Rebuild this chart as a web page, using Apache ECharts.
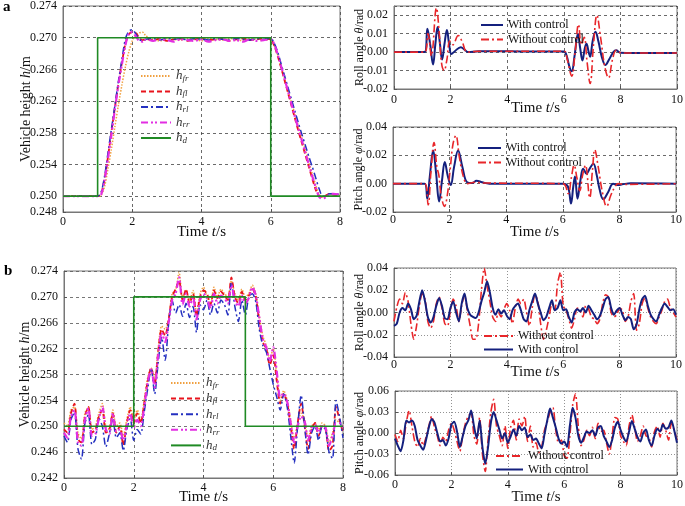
<!DOCTYPE html>
<html>
<head>
<meta charset="utf-8">
<title>Vehicle height, roll and pitch</title>
<script src="https://cdn.jsdelivr.net/npm/echarts@6.0.0/dist/echarts.min.js"></script>
<style>
  html, body { margin: 0; padding: 0; background: #fff; }
  #chart-container { width: 685px; height: 506px; }
</style>
</head>
<body>
<div id="chart-container"></div>
<script>
// ************************************************* //
// * +++++++++++ Data ++++++++++++ * //
// ************************************************* //

// --- a: vehicle height, smooth step ---
var tA = [0, 1.0, 1.1, 1.2, 1.3, 1.4, 1.5, 1.6, 1.7, 1.8, 1.9, 2.0, 2.1, 2.2, 2.3, 2.4,
  2.6, 2.8, 3.0, 3.2, 3.4, 3.6, 3.8, 4.0, 4.2, 4.4, 4.6, 4.8, 5.0, 5.2, 5.4, 5.6, 5.8, 6.0,
  6.1, 6.2, 6.3, 6.4, 6.5, 6.6, 6.7, 6.8, 6.9, 7.0, 7.1, 7.2, 7.3, 7.4, 7.5, 7.6, 7.7, 7.8, 8.0];
var hfrA = [0.2500, 0.2500,
  0.2501, 0.2512, 0.2535, 0.2560, 0.2588, 0.2615, 0.2640, 0.2663, 0.2682, 0.2696, 0.2703, 0.2706, 0.2707, 0.2702,
  0.2698, 0.2696, 0.2699, 0.2698, 0.2697, 0.2699, 0.2698, 0.2696, 0.2699, 0.2698, 0.2697, 0.2699, 0.2698, 0.2696, 0.2699, 0.2698, 0.2697, 0.2698,
  0.2690, 0.2678, 0.2663, 0.2648, 0.2633, 0.2618, 0.2603, 0.2588, 0.2573, 0.2558, 0.2543, 0.2528, 0.2514, 0.2502, 0.2499, 0.2500, 0.2502, 0.2502,
  0.2501];
var hflA = [0.2500, 0.2500,
  0.2503, 0.2522, 0.2550, 0.2582, 0.2612, 0.2642, 0.2668, 0.2692, 0.2704, 0.2707, 0.2706, 0.2700, 0.2697, 0.2698,
  0.2697, 0.2699, 0.2696, 0.2698, 0.2699, 0.2696, 0.2698, 0.2699, 0.2697, 0.2698, 0.2699, 0.2696, 0.2698, 0.2699, 0.2697, 0.2698, 0.2699, 0.2698,
  0.2690, 0.2677, 0.2662, 0.2646, 0.2630, 0.2614, 0.2598, 0.2582, 0.2567, 0.2552, 0.2537, 0.2522, 0.2508, 0.2500, 0.2499, 0.2501, 0.2503, 0.2502,
  0.2501];
var hrlA = [0.2500, 0.2500,
  0.2505, 0.2525, 0.2555, 0.2585, 0.2615, 0.2645, 0.2672, 0.2698, 0.2708, 0.2710, 0.2705, 0.2698, 0.2696, 0.2698,
  0.2699, 0.2697, 0.2699, 0.2698, 0.2699, 0.2697, 0.2699, 0.2698, 0.2697, 0.2699, 0.2698, 0.2697, 0.2699, 0.2698, 0.2697, 0.2699, 0.2698, 0.2699,
  0.2693, 0.2682, 0.2667, 0.2652, 0.2637, 0.2622, 0.2607, 0.2592, 0.2578, 0.2564, 0.2550, 0.2537, 0.2523, 0.2509, 0.2500, 0.2500, 0.2503, 0.2503,
  0.2502];
var hrrA = [0.2500, 0.2500,
  0.2502, 0.2520, 0.2548, 0.2578, 0.2610, 0.2640, 0.2666, 0.2690, 0.2705, 0.2707, 0.2702, 0.2696, 0.2695, 0.2698,
  0.2696, 0.2698, 0.2697, 0.2695, 0.2698, 0.2697, 0.2696, 0.2698, 0.2695, 0.2697, 0.2698, 0.2696, 0.2697, 0.2695, 0.2698, 0.2696, 0.2697, 0.2698,
  0.2692, 0.2679, 0.2664, 0.2648, 0.2632, 0.2616, 0.2600, 0.2585, 0.2570, 0.2555, 0.2540, 0.2525, 0.2511, 0.2499, 0.2497, 0.2499, 0.2502, 0.2503,
  0.2502];
var hdATimes = [0, 1, 1, 6, 6, 8];
var hdAVals = [0.250, 0.250, 0.270, 0.270, 0.250, 0.250];
// tick labels on the left axis of a (0.248 at the bottom, then 0.250 + 4 mm steps)
var heightTicksA = [0.248, 0.250, 0.254, 0.258, 0.262, 0.266, 0.270, 0.274];

// --- a: roll / pitch, [t, value] ---
var rollAWith = [[0, 0], [1.08, 0], [1.18, 0.0127], [1.28, 0.004], [1.38, -0.0067], [1.46, 0.004], [1.54, 0.0136],
  [1.62, 0.005], [1.7, -0.004], [1.78, 0.004], [1.87, 0.012], [1.95, 0.004], [2.03, -0.001], [2.15, 0.0005],
  [2.36, 0.0027], [2.5, 0.0012], [2.62, 0], [3, 0.0004], [4, 0.0004], [5, 0.0003], [6.0, 0.0003], [6.1, -0.002],
  [6.2, -0.008], [6.28, -0.0104], [6.38, -0.002], [6.5, 0.010], [6.58, 0.002], [6.66, -0.0045], [6.74, 0.002],
  [6.8, 0.0045], [6.88, 0.000], [6.93, -0.0025], [7.02, 0.006], [7.12, 0.011], [7.22, 0.006], [7.35, -0.003],
  [7.47, -0.007], [7.6, -0.004], [7.75, 0.000], [7.85, 0.001], [8.0, -0.0003], [9, -0.0005], [10, -0.0005]];
var rollANo = [[0, 0], [1.08, 0], [1.2, 0.010], [1.32, -0.002], [1.5, 0.024], [1.6, 0.010], [1.68, -0.006],
  [1.77, -0.010], [1.87, -0.004], [1.97, 0.006], [2.08, 0.004], [2.27, 0.009], [2.4, 0.006], [2.6, 0.000],
  [3, 0.0005], [6.0, 0.0005], [6.12, -0.004], [6.28, -0.013], [6.4, 0.000], [6.52, 0.015], [6.62, 0.004],
  [6.72, 0.008], [6.82, -0.005], [6.93, -0.017], [7.05, 0.004], [7.17, 0.020], [7.3, 0.008], [7.45, -0.008],
  [7.58, -0.014], [7.72, -0.004], [7.85, 0.001], [7.95, 0.000], [8.1, -0.0005], [10, -0.0005]];
var pitchAWith = [[0, 0], [1.12, 0], [1.21, -0.0106], [1.3, 0.005], [1.42, 0.0235], [1.52, 0.008], [1.63, -0.0125],
  [1.73, 0.002], [1.83, 0.0153], [1.93, 0.006], [2.04, -0.001], [2.16, 0.012], [2.3, 0.0235], [2.45, 0.012],
  [2.62, 0.001], [2.8, 0.0005], [2.95, 0.002], [3.15, 0.001], [3.4, 0], [6.0, 0], [6.18, -0.002], [6.29, -0.014],
  [6.37, -0.002], [6.43, 0.005], [6.52, -0.0106], [6.62, 0.002], [6.72, 0.0106], [6.84, 0.007], [6.96, 0.011],
  [7.08, 0.014], [7.2, 0.006], [7.3, -0.004], [7.43, -0.011], [7.6, -0.006], [7.78, 0], [7.95, -0.001],
  [8.1, -0.0005], [8.4, 0.0003], [10, 0]];
var pitchANo = [[0, 0], [1.12, 0], [1.24, -0.015], [1.34, 0.008], [1.45, 0.029], [1.55, 0.012], [1.62, 0.006],
  [1.7, -0.008], [1.82, -0.016], [1.92, -0.008], [2.02, 0.010], [2.12, 0.028], [2.22, 0.034], [2.35, 0.018],
  [2.5, 0.004], [2.62, 0.000], [2.9, 0.001], [3.2, 0.0005], [6.0, 0], [6.19, -0.007], [6.3, 0.004], [6.4, 0.013],
  [6.5, 0.004], [6.6, -0.005], [6.7, 0.006], [6.8, 0.013], [6.95, -0.010], [7.05, 0.010], [7.13, 0.024],
  [7.25, 0.012], [7.4, -0.006], [7.55, -0.016], [7.7, -0.008], [7.85, -0.002], [7.95, 0], [8.2, -0.0005], [10, 0]];

// --- b: sampled every 0.1 s ---
var stepB = 0.1;
var hfrB = [
  0.2505, 0.2500, 0.2525, 0.2530, 0.2490, 0.2480, 0.2520, 0.2530, 0.2495, 0.2500,
  0.2520, 0.2535, 0.2500, 0.2495, 0.2525, 0.2500, 0.2505, 0.2485, 0.2510, 0.2530,
  0.2510, 0.2525, 0.2510, 0.2540, 0.2575, 0.2590, 0.2575, 0.2620, 0.2655, 0.2650,
  0.2665, 0.2705, 0.2710, 0.2738, 0.2700, 0.2710, 0.2695, 0.2710, 0.2675, 0.2705,
  0.2715, 0.2700, 0.2690, 0.2715, 0.2700, 0.2712, 0.2705, 0.2700, 0.2725, 0.2705,
  0.2695, 0.2712, 0.2700, 0.2705, 0.2718, 0.2705, 0.2670, 0.2640, 0.2625, 0.2605,
  0.2620, 0.2580, 0.2540, 0.2555, 0.2540, 0.2510, 0.2480, 0.2505, 0.2520, 0.2510,
  0.2480, 0.2500, 0.2505, 0.2495, 0.2505, 0.2500, 0.2475, 0.2490, 0.2510, 0.2505,
  0.2500];
var hflB = [
  0.2495, 0.2490, 0.2520, 0.2535, 0.2480, 0.2475, 0.2515, 0.2530, 0.2490, 0.2495,
  0.2515, 0.2525, 0.2490, 0.2495, 0.2520, 0.2490, 0.2500, 0.2470, 0.2505, 0.2525,
  0.2505, 0.2520, 0.2505, 0.2535, 0.2570, 0.2590, 0.2565, 0.2615, 0.2650, 0.2640,
  0.2665, 0.2700, 0.2712, 0.2725, 0.2695, 0.2712, 0.2690, 0.2705, 0.2670, 0.2700,
  0.2710, 0.2705, 0.2688, 0.2710, 0.2698, 0.2708, 0.2702, 0.2695, 0.2730, 0.2700,
  0.2690, 0.2708, 0.2695, 0.2702, 0.2712, 0.2700, 0.2660, 0.2630, 0.2620, 0.2595,
  0.2610, 0.2570, 0.2535, 0.2550, 0.2535, 0.2500, 0.2465, 0.2505, 0.2535, 0.2500,
  0.2465, 0.2495, 0.2505, 0.2485, 0.2500, 0.2495, 0.2462, 0.2470, 0.2530, 0.2510,
  0.2490];
var hrlB = [
  0.2485, 0.2475, 0.2510, 0.2522, 0.2465, 0.2449, 0.2505, 0.2518, 0.2472, 0.2480,
  0.2512, 0.2500, 0.2468, 0.2488, 0.2512, 0.2482, 0.2490, 0.2462, 0.2495, 0.2512,
  0.2478, 0.2495, 0.2488, 0.2522, 0.2558, 0.2590, 0.2550, 0.2598, 0.2638, 0.2602,
  0.2658, 0.2695, 0.2675, 0.2688, 0.2670, 0.2690, 0.2668, 0.2685, 0.2645, 0.2688,
  0.2680, 0.2695, 0.2672, 0.2690, 0.2675, 0.2695, 0.2688, 0.2672, 0.2722, 0.2685,
  0.2662, 0.2695, 0.2672, 0.2700, 0.2705, 0.2692, 0.2650, 0.2625, 0.2615, 0.2590,
  0.2565, 0.2545, 0.2525, 0.2550, 0.2530, 0.2485, 0.2443, 0.2500, 0.2548, 0.2500,
  0.2456, 0.2490, 0.2500, 0.2478, 0.2500, 0.2495, 0.2460, 0.2450, 0.2540, 0.2515,
  0.2482];
var hrrB = [
  0.2490, 0.2482, 0.2515, 0.2525, 0.2475, 0.2470, 0.2510, 0.2528, 0.2485, 0.2488,
  0.2512, 0.2530, 0.2495, 0.2488, 0.2520, 0.2492, 0.2495, 0.2478, 0.2500, 0.2520,
  0.2498, 0.2510, 0.2500, 0.2530, 0.2568, 0.2588, 0.2560, 0.2610, 0.2645, 0.2630,
  0.2660, 0.2695, 0.2705, 0.2730, 0.2688, 0.2705, 0.2685, 0.2700, 0.2665, 0.2695,
  0.2705, 0.2698, 0.2682, 0.2705, 0.2690, 0.2702, 0.2698, 0.2690, 0.2718, 0.2695,
  0.2685, 0.2702, 0.2690, 0.2698, 0.2715, 0.2702, 0.2668, 0.2635, 0.2622, 0.2600,
  0.2622, 0.2585, 0.2545, 0.2550, 0.2538, 0.2505, 0.2475, 0.2500, 0.2515, 0.2508,
  0.2478, 0.2498, 0.2502, 0.2490, 0.2502, 0.2498, 0.2470, 0.2485, 0.2505, 0.2505,
  0.2498];
var hdBTimes = [0, 2, 2, 5.2, 5.2, 8];
var hdBVals = [0.250, 0.250, 0.270, 0.270, 0.250, 0.250];

var rollBWith = [
  -0.012, -0.010, 0.000, 0.004, 0.002, 0.008, 0.003, -0.006, -0.003, 0.010,
  0.020, 0.010, -0.004, -0.009, -0.004, 0.006, 0.013, 0.006, -0.005, -0.006,
  0.004, 0.010, 0.000, -0.008, 0.008, 0.017, 0.004, -0.002, -0.004, -0.005,
  0.000, 0.010, 0.018, 0.028, 0.018, 0.004, -0.002, 0.003, -0.001, 0.002,
  -0.003, -0.006, 0.002, 0.006, 0.008, 0.002, -0.006, -0.008, 0.002, 0.010,
  0.017, 0.008, 0.000, -0.007, -0.004, 0.004, 0.011, 0.002, 0.004, 0.011,
  0.002, 0.003, -0.004, -0.009, 0.000, 0.003, 0.001, 0.004, 0.000, 0.006,
  0.002, -0.002, -0.006, -0.003, 0.004, 0.012, 0.014, 0.004, -0.002, 0.002,
  0.004, -0.002, -0.007, -0.004, -0.006, -0.015, -0.011, 0.003, 0.012, 0.015,
  0.006, -0.002, -0.006, -0.008, -0.002, 0.004, 0.008, 0.005, 0.002, 0.003,
  -0.002];
var rollBNo = [
  -0.008, 0.005, 0.012, 0.008, 0.018, 0.010, -0.010, -0.024, -0.012, 0.006,
  0.017, 0.012, -0.008, -0.014, -0.008, 0.008, 0.014, 0.004, -0.010, -0.012,
  0.002, 0.012, 0.006, -0.008, 0.006, 0.016, 0.002, -0.012, -0.024, -0.024,
  -0.010, 0.020, 0.040, 0.024, 0.010, -0.004, -0.008, 0.000, -0.004, 0.003,
  0.008, 0.002, -0.010, 0.004, 0.012, 0.008, 0.012, 0.000, -0.012, 0.004,
  0.016, 0.010, -0.010, -0.024, -0.016, -0.004, 0.008, 0.002, 0.026, 0.036,
  0.006, 0.002, -0.006, -0.014, -0.006, 0.004, 0.002, -0.004, 0.006, 0.003,
  -0.004, -0.006, -0.010, -0.006, 0.008, 0.016, 0.014, 0.000, -0.004, -0.002,
  0.004, 0.002, -0.008, -0.004, 0.010, 0.017, -0.016, -0.010, 0.008, 0.013,
  0.004, -0.004, -0.008, -0.010, -0.004, 0.002, 0.010, 0.012, 0.004, 0.000,
  -0.004];
var pitchBWith = [
  -0.008, -0.018, -0.026, -0.010, 0.018, 0.015, 0.018, 0.010, -0.010, -0.018,
  -0.024, -0.010, 0.008, 0.020, 0.015, 0.000, -0.012, -0.010, -0.018, -0.008,
  0.012, 0.016, 0.002, -0.020, -0.005, 0.010, 0.018, 0.032, 0.010, -0.008,
  0.018, -0.020, -0.044, -0.020, 0.015, 0.030, 0.018, 0.005, -0.008, 0.000,
  -0.014, -0.005, 0.005, -0.004, 0.010, 0.004, 0.008, -0.006, -0.002, -0.010,
  -0.008, -0.015, -0.022, -0.002, 0.018, 0.035, 0.022, 0.008, -0.008, -0.015,
  -0.012, -0.020, 0.010, 0.036, 0.022, -0.004, -0.014, -0.006, 0.002, 0.000,
  0.004, -0.004, 0.008, 0.010, -0.004, -0.012, -0.020, -0.010, 0.008, 0.016,
  0.004, -0.006, -0.012, 0.002, 0.017, 0.006, -0.006, -0.012, 0.000, 0.005,
  -0.010, -0.018, -0.004, 0.006, 0.002, 0.012, 0.006, 0.008, 0.018, 0.004,
  -0.014];
var pitchBNo = [
  -0.002, -0.012, 0.004, -0.008, 0.015, 0.032, 0.010, -0.012, -0.020, -0.008,
  -0.018, -0.006, 0.010, 0.024, 0.008, -0.004, -0.018, -0.006, -0.012, 0.004,
  0.014, 0.004, -0.012, -0.026, -0.004, 0.014, 0.024, 0.028, -0.004, -0.016,
  0.022, -0.030, -0.055, -0.010, 0.030, 0.048, 0.010, -0.004, -0.018, 0.010,
  -0.022, 0.008, 0.018, -0.010, 0.020, 0.010, 0.024, -0.012, 0.010, -0.020,
  -0.014, -0.028, -0.020, 0.004, 0.016, 0.030, 0.036, 0.004, -0.014, -0.010,
  -0.032, -0.036, -0.004, 0.040, 0.056, 0.010, -0.018, -0.010, 0.004, -0.004,
  0.008, -0.008, 0.014, 0.002, 0.004, -0.014, -0.030, -0.004, 0.022, 0.020,
  -0.004, -0.012, -0.018, 0.010, 0.026, 0.008, -0.012, -0.004, 0.010, -0.004,
  -0.006, -0.020, 0.002, 0.010, -0.006, 0.014, 0.004, -0.010, 0.014, 0.004,
  -0.010];

var heightNames = ['hfr', 'hfl', 'hrl', 'hrr', 'hd'];
var heightSubs = { hfr: 'fr', hfl: 'fl', hrl: 'rl', hrr: 'rr', hd: 'd' };

// ************************************************* //
// * +++++++++++ Helpers ++++++++++++ * //
// ************************************************* //

var serif = 'Liberation Serif';
var ink = '#111';

function zip(times, vals) {
  return vals.map(function (v, i) { return [times[i], v]; });
}
function sampled(vals, step) {
  return vals.map(function (v, i) { return [Math.round(i * step * 100) / 100, v]; });
}

function nameRich(size) {
  return {
    n: { fontFamily: serif, fontSize: size, color: ink, lineHeight: size },
    i: { fontFamily: serif, fontSize: size, color: ink, lineHeight: size, fontStyle: 'italic' }
  };
}

var dashA = { color: '#444', width: 0.8, type: [3, 3] };
var dashB = { color: '#555', width: 0.8, type: [3, 3] };
var dotB = { color: '#777', width: 0.8, type: [1, 2] };

function timeAxis(gi, max, nameGap, labelMargin, split) {
  return {
    type: 'value', gridIndex: gi, min: 0, max: max, interval: 2,
    name: '{n|Time }{i|t}{n|/s}', nameLocation: 'middle', nameGap: nameGap, nameMoveOverlap: false,
    nameTextStyle: { rich: nameRich(15) },
    axisLine: { show: true, onZero: false, lineStyle: { color: '#777', width: 1 } },
    axisTick: { show: true, inside: true, length: 3, lineStyle: { color: '#555' } },
    axisLabel: { margin: labelMargin, fontFamily: serif, fontSize: 12, color: ink },
    splitLine: { show: true, lineStyle: split }
  };
}

function valAxis(gi, min, max, step, digits, name, nameGap, nameSize, split, showMax) {
  return {
    type: 'value', gridIndex: gi, min: min, max: max, interval: step,
    name: name, nameLocation: 'middle', nameGap: nameGap, nameMoveOverlap: false,
    nameTextStyle: { rich: nameRich(nameSize) },
    axisLine: { show: true, onZero: false, lineStyle: { color: '#777', width: 1 } },
    axisTick: { show: true, inside: true, length: 3, lineStyle: { color: '#555' } },
    axisLabel: {
      margin: 6, fontFamily: serif, fontSize: 12, color: ink, showMaxLabel: showMax,
      formatter: function (v) { return (Math.abs(v) < 1e-9 ? 0 : v).toFixed(digits); }
    },
    splitLine: { show: true, lineStyle: split }
  };
}

var styles = {
  hfr: { color: '#f0a040', width: 1.5, type: [1.5, 1.5] },
  hfl: { color: '#e8141c', width: 1.8, type: [5, 3] },
  hrl: { color: '#2430c0', width: 1.5, type: [7, 3, 2, 3] },
  hrr: { color: '#e22ee2', width: 2.2, type: [7, 3, 2, 2, 2, 3] },
  hd: { color: '#1f8a24', width: 1.6, type: 'solid' },
  'With control': { color: '#14207e', width: 2, type: 'solid' },
  'Without control': { color: '#e8262a', width: 1.6, type: [8, 3, 2, 3] }
};

function line(name, gi, data, smooth) {
  var st = styles[name];
  return {
    name: name, type: 'line', xAxisIndex: gi, yAxisIndex: gi, data: data,
    symbol: 'none', smooth: smooth, lineStyle: st, itemStyle: { color: st.color }
  };
}

function legendOf(names, left, top, itemWidth, gap) {
  return {
    data: names, orient: 'vertical', left: left, top: top, padding: 0,
    itemWidth: itemWidth, itemHeight: 10, itemGap: gap, selectedMode: false,
    itemStyle: { opacity: 0 },   // line sample only, no marker in the middle
    textStyle: {
      fontFamily: serif, fontSize: 12, color: ink, lineHeight: 12,
      rich: {
        h: { fontFamily: serif, fontStyle: 'italic', fontSize: 13, color: '#333', lineHeight: 14 },
        s: { fontFamily: serif, fontStyle: 'italic', fontSize: 9, color: '#333', lineHeight: 9, verticalAlign: 'bottom' }
      }
    },
    formatter: function (name) {
      return heightSubs[name] ? '{h|h}{s|' + heightSubs[name] + '}' : name;
    }
  };
}

// ************************************************* //
// * +++++++++++ Chart ++++++++++++ * //
// ************************************************* //

var dom = document.getElementById('chart-container');
var myChart = echarts.init(dom, null, { renderer: 'canvas' });

var gridBase = { show: true, borderColor: '#777', borderWidth: 1, backgroundColor: '#fff', containLabel: false, outerBoundsMode: 'none' };
var grids = [
  { left: 63, top: 6, width: 277, height: 206 },
  { left: 394, top: 6, width: 283, height: 83 },
  { left: 393, top: 127, width: 283, height: 85 },
  { left: 64, top: 271, width: 279, height: 207 },
  { left: 394, top: 268, width: 282, height: 89 },
  { left: 395, top: 391, width: 282, height: 84 }
].map(function (g) { return Object.assign({}, gridBase, g); });

var heightName = '{n|Vehicle height }{i|h}{n|/m}';
var rollName = '{n|Roll angle }{i|θ}{n|/rad}';
var pitchName = '{n|Pitch angle }{i|φ}{n|/rad}';

var heightAxisA = valAxis(0, 0.248, 0.274, 0.002, 3, heightName, 30, 14, dashA, true);
heightAxisA.axisTick.customValues = heightTicksA;
heightAxisA.axisLabel.customValues = heightTicksA;

var option = {
  animation: false,
  backgroundColor: '#fff',
  grid: grids,
  xAxis: [
    timeAxis(0, 8, 13, 4, dashA),
    timeAxis(1, 10, 12, 5, dashA),
    timeAxis(2, 10, 13, 2, dashA),
    timeAxis(3, 8, 12, 4, dashB),
    timeAxis(4, 10, 8, 2, dotB),
    timeAxis(5, 10, 15, 4, dotB)
  ],
  yAxis: [
    heightAxisA,
    valAxis(1, -0.02, 0.025, 0.01, 2, rollName, 28, 12, dashA, false),
    valAxis(2, -0.02, 0.04, 0.02, 2, pitchName, 28, 12, dashA, true),
    valAxis(3, 0.242, 0.274, 0.004, 3, heightName, 32, 14, dashB, true),
    valAxis(4, -0.04, 0.04, 0.02, 2, rollName, 28, 12, dotB, true),
    valAxis(5, -0.06, 0.06, 0.03, 2, pitchName, 29, 12, dotB, true)
  ],
  legend: [
    legendOf(heightNames, 140, 69, 30, 1.5),
    legendOf(['With control', 'Without control'], 480, 19, 22, 2.5),
    legendOf(['With control', 'Without control'], 477, 142, 23, 2.5),
    legendOf(heightNames, 170, 376, 30, 1.6),
    legendOf(['Without control', 'With control'], 483, 330, 29, 1.5),
    legendOf(['Without control', 'With control'], 495, 450, 27, 1.5)
  ],
  graphic: [
    { type: 'text', left: 3, top: 0, style: { text: 'a', font: 'bold 15px "Liberation Serif"', fill: '#000' } },
    { type: 'text', left: 4, top: 264, style: { text: 'b', font: 'bold 15px "Liberation Serif"', fill: '#000' } }
  ],
  series: [
    line('hfr', 0, zip(tA, hfrA), 0.3),
    line('hfl', 0, zip(tA, hflA), 0.3),
    line('hrl', 0, zip(tA, hrlA), 0.3),
    line('hrr', 0, zip(tA, hrrA), 0.3),
    line('hd', 0, zip(hdATimes, hdAVals), false),

    line('With control', 1, rollAWith, 0.4),
    line('Without control', 1, rollANo, 0.4),
    line('With control', 2, pitchAWith, 0.4),
    line('Without control', 2, pitchANo, 0.4),

    line('hfr', 3, sampled(hfrB, stepB), 0.25),
    line('hfl', 3, sampled(hflB, stepB), 0.25),
    line('hrl', 3, sampled(hrlB, stepB), 0.25),
    line('hrr', 3, sampled(hrrB, stepB), 0.25),
    line('hd', 3, zip(hdBTimes, hdBVals), false),

    line('Without control', 4, sampled(rollBNo, stepB), 0.25),
    line('With control', 4, sampled(rollBWith, stepB), 0.25),
    line('Without control', 5, sampled(pitchBNo, stepB), 0.25),
    line('With control', 5, sampled(pitchBWith, stepB), 0.25)
  ]
};

myChart.setOption(option);
window.addEventListener('resize', myChart.resize);
</script>
</body>
</html>
